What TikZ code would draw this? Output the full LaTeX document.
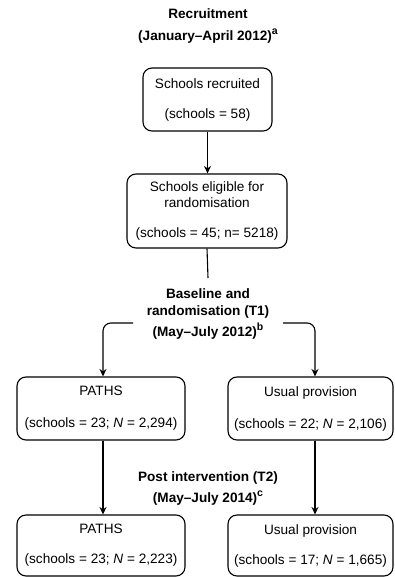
\documentclass[tikz,border=0pt]{standalone}
\usepackage{fontspec}
\setmainfont{Liberation Sans}
\usetikzlibrary{arrows.meta}

\newcommand{\notemark}[1]{\raisebox{0.42em}{\fontsize{10.5}{10}\selectfont #1}}

\tikzset{
  box/.style={draw, rounded corners=9pt, line width=1.1pt, align=center,
    inner sep=0pt, font=\fontsize{13.6}{16}\selectfont},
  stagetitle/.style={align=center, font=\fontsize{13.6}{17}\selectfont\bfseries},
  flow/.style={line width=1.1pt, -{Stealth[length=7.5pt,width=7pt]}},
  link/.style={line width=1.1pt},
}

\begin{document}
\begin{tikzpicture}[x=1pt, y=-1pt]
  \useasboundingbox (0,0) rectangle (394,577);
  \clip (0,0) rectangle (394,577);

  % stage titles
  \node[stagetitle] (recruitTitle) at (208,26)
    {Recruitment\\[5pt](January--April 2012)\notemark{a}};
  \node[stagetitle] (baseTitle) at (208,314)
    {Baseline and\\randomisation (T1)\\[4pt](May--July 2012)\notemark{b}};
  \node[stagetitle] (postTitle) at (208,488)
    {Post intervention (T2)\\[4pt](May--July 2014)\notemark{c}};

  % boxes
  \node[box, minimum width=129, minimum height=63] (recruited) at (207.5,99.5)
    {Schools recruited\\[14pt](schools = 58)};
  \node[box, minimum width=160, minimum height=74] (eligible) at (207,211)
    {Schools eligible for\\randomisation\\[14pt](schools = 45; n= 5218)};
  \node[box, minimum width=168, minimum height=63] (pathsA) at (101,408.5)
    {PATHS\\[16pt](schools = 23; \textit{N} = 2,294)};
  \node[box, minimum width=165, minimum height=63] (usualA) at (310.5,408.5)
    {Usual provision\\[16pt](schools = 22; \textit{N} = 2,106)};
  \node[box, minimum width=168, minimum height=61] (pathsB) at (101,545.5)
    {PATHS\\[14pt](schools = 23; \textit{N} = 2,223)};
  \node[box, minimum width=165, minimum height=61] (usualB) at (310.5,545.5)
    {Usual provision\\[14pt](schools = 17; \textit{N} = 1,665)};

  % split points
  \coordinate (splitTop) at (208,278);
  \coordinate (splitL) at (133,323);
  \coordinate (splitR) at (283,323);

  % connectors
  \draw[flow] (recruited) -- (recruited |- eligible.north);
  \draw[link] (eligible.south) -- (splitTop);
  \draw[flow, rounded corners=8pt] (splitL) -| ([xshift=2]pathsA.north);
  \draw[flow, rounded corners=8pt] (splitR) -| ([xshift=4.5]usualA.north);
  \draw[flow] ([xshift=2]pathsA.south) -- ([xshift=2]pathsB.north);
  \draw[flow] ([xshift=4.5]usualA.south) -- ([xshift=4.5]usualB.north);
\end{tikzpicture}
\end{document}
